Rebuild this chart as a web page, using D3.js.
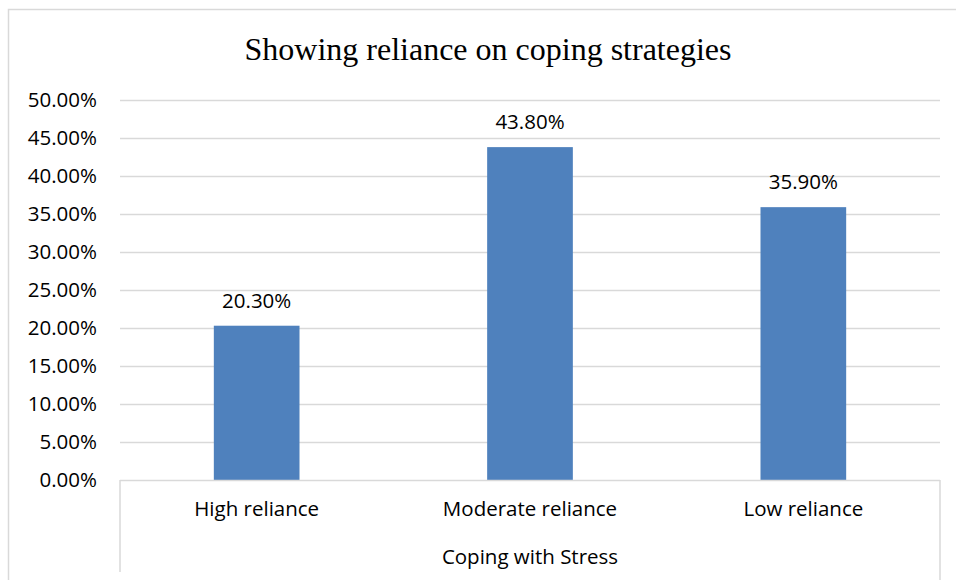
<!DOCTYPE html>
<html>
<head>
<meta charset="utf-8">
<script src="https://cdn.jsdelivr.net/npm/d3@7"></script>
<style>
  html, body { margin: 0; padding: 0; background: #fff; }
  svg { display: block; }
</style>
</head>
<body>
<script>
// chart data
const categories = ['High reliance', 'Moderate reliance', 'Low reliance'];
const values = [0.203, 0.438, 0.359];
const yTicks = [0, 0.05, 0.1, 0.15, 0.2, 0.25, 0.3, 0.35, 0.4, 0.45, 0.5];
const title = 'Showing reliance on coping strategies';
const groupLabel = 'Coping with Stress';

const width = 956;
const height = 580;
const plot = { left: 120, right: 940, top: 100, bottom: 480 };
const sans = "'Open Sans', sans-serif";
const grid = '#d9d9d9';

const svg = d3.select('body')
  .append('svg')
  .attr('width', width)
  .attr('height', height);

// outer chart border (only top and left edges are in frame)
svg.append('path')
  .attr('d', `M8.5,${height} V9.5 H${width}`)
  .attr('fill', 'none')
  .attr('stroke', grid)
  .attr('stroke-width', 1.5);

const x = d3.scaleBand()
  .domain(categories)
  .range([plot.left, plot.right])
  .padding(0);

const y = d3.scaleLinear()
  .domain([0, 0.5])
  .range([plot.bottom, plot.top]);

// gridlines
svg.append('g')
  .selectAll('line')
  .data(yTicks.slice(1))
  .join('line')
  .attr('x1', plot.left)
  .attr('x2', plot.right)
  .attr('y1', (d) => Math.round(y(d)) + 0.5)
  .attr('y2', (d) => Math.round(y(d)) + 0.5)
  .attr('stroke', grid)
  .attr('stroke-width', 1.5);

// y axis labels
const yAxis = svg.append('g')
  .attr('transform', `translate(${plot.left - 23},0)`)
  .call(d3.axisLeft(y).tickValues(yTicks).tickFormat(d3.format('.2%')).tickSize(0).tickPadding(0));
yAxis.select('.domain').remove();
yAxis.selectAll('text')
  .attr('font-family', sans)
  .attr('font-size', 20.5)
  .attr('fill', '#000');

// bars (Excel-like gap width: bar is ~31.5% of the category band)
const barW = x.bandwidth() / 3.19;
svg.append('g')
  .selectAll('rect')
  .data(values)
  .join('rect')
  .attr('x', (d, i) => x(categories[i]) + x.bandwidth() / 2 - barW / 2)
  .attr('width', barW)
  .attr('y', (d) => y(d))
  .attr('height', (d) => y(0) - y(d))
  .attr('fill', '#4f81bd');

// data labels
svg.append('g')
  .selectAll('text')
  .data(values)
  .join('text')
  .attr('x', (d, i) => x(categories[i]) + x.bandwidth() / 2)
  .attr('y', (d) => y(d) - 18)
  .attr('text-anchor', 'middle')
  .attr('font-family', sans)
  .attr('font-size', 20.5)
  .attr('fill', '#000')
  .text((d) => d3.format('.2%')(d));

// category axis line + multi-level box
svg.append('line')
  .attr('x1', plot.left)
  .attr('x2', plot.right)
  .attr('y1', plot.bottom + 0.5)
  .attr('y2', plot.bottom + 0.5)
  .attr('stroke', grid)
  .attr('stroke-width', 1.5);
svg.append('line')
  .attr('x1', plot.left).attr('x2', plot.left)
  .attr('y1', plot.bottom).attr('y2', 572)
  .attr('stroke', grid).attr('stroke-width', 1.5);
svg.append('line')
  .attr('x1', plot.right).attr('x2', plot.right)
  .attr('y1', plot.bottom).attr('y2', height)
  .attr('stroke', grid).attr('stroke-width', 1.5);

const xAxis = svg.append('g')
  .attr('transform', `translate(0,${plot.bottom})`)
  .call(d3.axisBottom(x).tickSize(0).tickPadding(21));
xAxis.select('.domain').remove();
xAxis.selectAll('text')
  .attr('font-family', sans)
  .attr('font-size', 20.5)
  .attr('fill', '#000');

svg.append('text')
  .attr('x', (plot.left + plot.right) / 2)
  .attr('y', 564)
  .attr('text-anchor', 'middle')
  .attr('font-family', sans)
  .attr('font-size', 20.5)
  .attr('fill', '#000')
  .text(groupLabel);

// title
svg.append('text')
  .attr('x', 488)
  .attr('y', 60)
  .attr('text-anchor', 'middle')
  .attr('font-family', "'Liberation Serif', 'Times New Roman', serif")
  .attr('font-size', 32)
  .attr('fill', '#000')
  .text(title);
</script>
</body>
</html>
